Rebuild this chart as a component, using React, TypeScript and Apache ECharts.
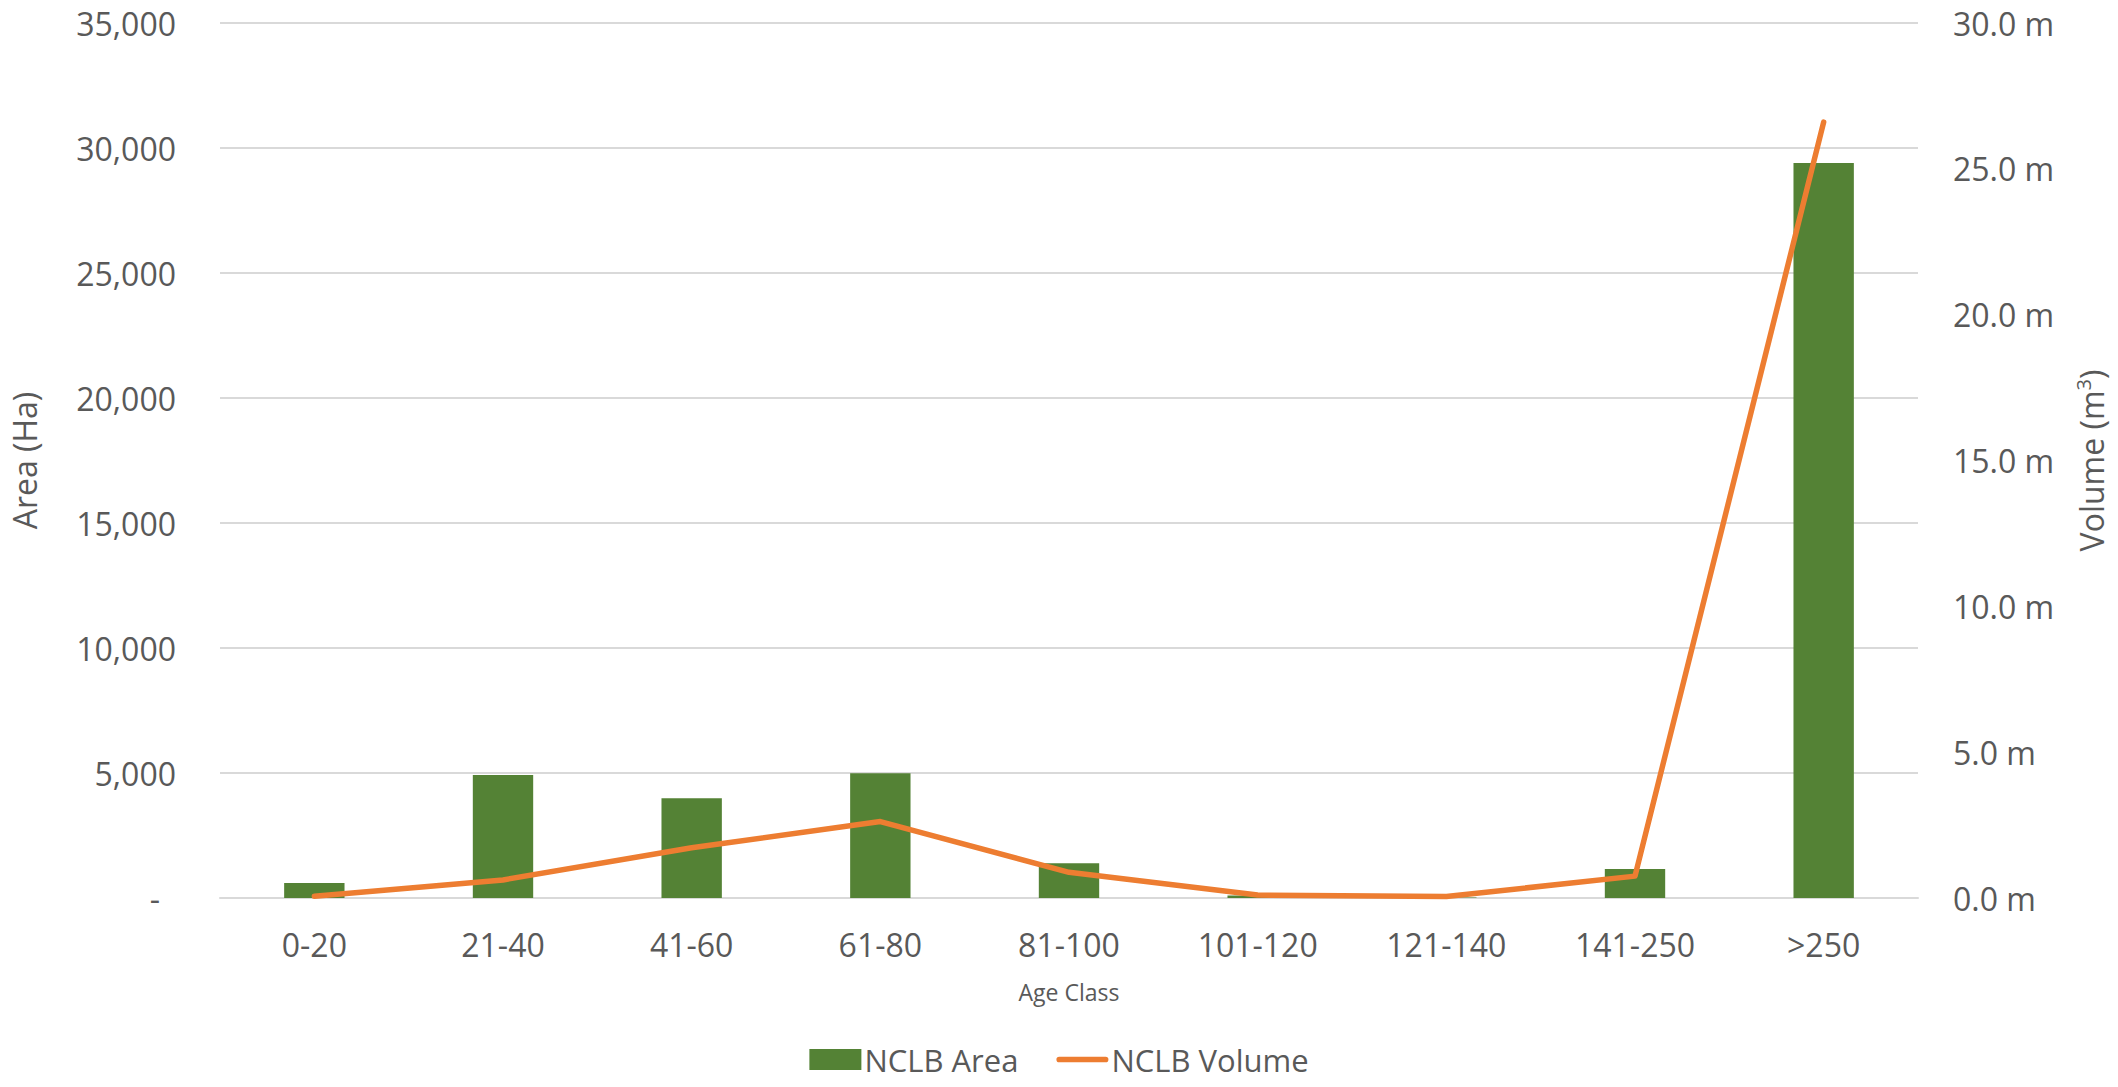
import React, { useEffect, useRef } from "react";
import * as echarts from "echarts";

const categories = ["0-20", "21-40", "41-60", "61-80", "81-100", "101-120", "121-140", "141-250", ">250"];
const areaValues = [600, 4920, 3990, 4990, 1390, 100, 20, 1160, 29400];
const volumeValues = [0.06, 0.62, 1.72, 2.62, 0.88, 0.1, 0.05, 0.75, 26.6];

const FONT = "Open Sans";
const TEXT = "#595959";

export default function App() {
  const ref = useRef<HTMLDivElement>(null);
  useEffect(() => {
    if (!ref.current) return;
    const chart = echarts.init(ref.current, undefined, { renderer: "svg" });
    chart.setOption({
      animation: false,
      textStyle: { fontFamily: FONT, color: TEXT },
      grid: { left: 213, right: 200, top: 23, bottom: 189, containLabel: false },
      legend: {
        top: 1044,
        left: "center",
        padding: 0,
        itemWidth: 52,
        itemHeight: 21,
        itemGap: 38,
        textStyle: { fontFamily: FONT, fontSize: 31, lineHeight: 30, color: TEXT, padding: [0, 0, 0, -2] },
        data: [
          { name: "NCLB Area", icon: "rect" },
          { name: "NCLB Volume", icon: "path://M3,0H52A3,3 0 0 1 52,6H3A3,3 0 0 1 3,0Z" },
        ],
      },
      xAxis: {
        type: "category",
        data: categories,
        name: "Age Class",
        nameLocation: "middle",
        nameGap: 82,
        nameTextStyle: { fontFamily: FONT, fontSize: 23, color: TEXT },
        axisLine: { show: true, lineStyle: { color: "#d9d9d9", width: 2 } },
        axisTick: { show: false },
        axisLabel: { fontFamily: FONT, fontSize: 32, color: TEXT, margin: 30 },
      },
      yAxis: [
        {
          type: "value",
          min: 0,
          max: 35000,
          interval: 5000,
          name: "Area (Ha)",
          nameLocation: "middle",
          nameGap: 180,
          nameRotate: 90,
          nameTextStyle: { fontFamily: FONT, fontSize: 32, color: TEXT },
          axisLine: { show: false },
          axisTick: { show: false },
          splitLine: { show: true, lineStyle: { color: "#d9d9d9", width: 2 } },
          axisLabel: {
            fontFamily: FONT,
            fontSize: 32,
            color: TEXT,
            margin: 44,
            formatter: (v: number) =>
              v === 0 ? "{d|-}" : v.toLocaleString("en-US"),
            rich: { d: { fontFamily: FONT, fontSize: 32, color: TEXT, padding: [0, 16, 0, 0] } },
          },
        },
        {
          type: "value",
          min: 0,
          max: 30,
          interval: 5,
          position: "right",
          name: "Volume (m{sup|3})",
          nameLocation: "middle",
          nameGap: 155,
          nameRotate: 90,
          nameTextStyle: {
            fontFamily: FONT,
            fontSize: 32,
            color: TEXT,
            rich: { sup: { fontFamily: FONT, fontSize: 20, color: TEXT, verticalAlign: "bottom", padding: [0, 0, 16, 0] } },
          },
          axisLine: { show: false },
          axisTick: { show: false },
          splitLine: { show: false },
          axisLabel: {
            fontFamily: FONT,
            fontSize: 32,
            color: TEXT,
            margin: 35,
            formatter: (v: number) => v.toFixed(1) + " m",
          },
        },
      ],
      series: [
        {
          name: "NCLB Area",
          type: "bar",
          data: areaValues,
          barWidth: "32%",
          itemStyle: { color: "#548235" },
        },
        {
          name: "NCLB Volume",
          type: "line",
          yAxisIndex: 1,
          data: volumeValues,
          symbol: "none",
          showSymbol: false,
          lineStyle: { color: "#ED7D31", width: 5.5, cap: "round", join: "round" },
          itemStyle: { color: "#ED7D31" },
        },
      ],
    });
    return () => chart.dispose();
  }, []);
  return (
    <div
      ref={ref}
      style={{ position: "fixed", left: 0, top: 0, width: 2118, height: 1087, background: "#fff" }}
    />
  );
}
